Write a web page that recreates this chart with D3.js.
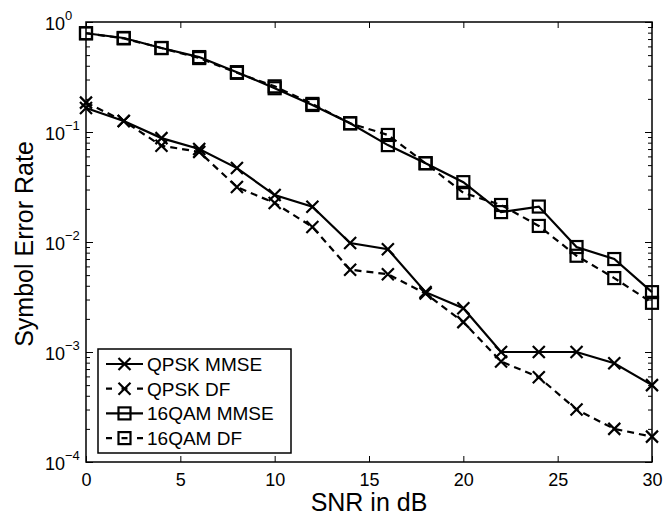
<!DOCTYPE html>
<html>
<head>
<meta charset="utf-8">
<script src="https://cdn.jsdelivr.net/npm/d3@7"></script>
<style>
  body { margin: 0; background: #fff; }
  svg { font-family: "Liberation Sans", Arial, sans-serif; }
</style>
</head>
<body>
<svg id="chart" width="665" height="521"></svg>
<script>
// values
var snr = [0, 2, 4, 6, 8, 10, 12, 14, 16, 18, 20, 22, 24, 26, 28, 30];
var qpskMmse = [0.165, 0.126, 0.088, 0.070, 0.047, 0.0267, 0.0209, 0.0098, 0.0086, 0.0035, 0.0025, 0.001, 0.001, 0.001, 0.00079, 0.0005];
var qpskDf = [0.185, 0.126, 0.075, 0.066, 0.0316, 0.0226, 0.0137, 0.0056, 0.0051, 0.0034, 0.00187, 0.00082, 0.00059, 0.0003, 0.0002, 0.00017];
var qamMmse = [0.79, 0.716, 0.58, 0.48, 0.35, 0.25, 0.176, 0.12, 0.076, 0.052, 0.035, 0.0187, 0.021, 0.009, 0.007, 0.0035];
var qamDf = [0.79, 0.71, 0.58, 0.47, 0.345, 0.26, 0.18, 0.12, 0.094, 0.052, 0.028, 0.0217, 0.014, 0.0075, 0.0047, 0.0028];
var xTicks = [0, 5, 10, 15, 20, 25, 30];
var yMajor = [1e-4, 1e-3, 1e-2, 1e-1, 1];
var yExp = ['\u22124', '\u22123', '\u22122', '\u22121', '0'];
var seriesNames = ['QPSK MMSE', 'QPSK DF', '16QAM MMSE', '16QAM DF'];

var series = [
	{name: seriesNames[0], vals: qpskMmse, marker: 'x', dash: null},
	{name: seriesNames[1], vals: qpskDf, marker: 'x', dash: '7,5'},
	{name: seriesNames[2], vals: qamMmse, marker: 's', dash: null},
	{name: seriesNames[3], vals: qamDf, marker: 's', dash: '7,5'}
];

var svg = d3.select('#chart');
var plotL = 86, plotR = 652, plotT = 22, plotB = 462;

var x = d3.scaleLinear().domain([0, 30]).range([plotL, plotR]);
var y = d3.scaleLog().domain([1e-4, 1]).range([plotB, plotT]);

var yMinor = y.ticks().filter(function(d){ return yMajor.indexOf(d) < 0; });

// frame
svg.append('rect')
	.attr('x', plotL).attr('y', plotT)
	.attr('width', plotR - plotL).attr('height', plotB - plotT)
	.attr('fill', 'none').attr('stroke', '#000').attr('stroke-width', 1.5);

function styleAxis(g){
	g.select('.domain').remove();
	g.selectAll('.tick line').attr('stroke', '#000').attr('stroke-width', 1);
}

// x axes (ticks inside)
svg.append('g')
	.attr('transform', 'translate(0,' + plotB + ')')
	.call(d3.axisBottom(x).tickValues(xTicks).tickSize(-6).tickPadding(11))
	.call(styleAxis)
	.selectAll('text')
		.attr('font-size', 18).attr('fill', '#000')
		.attr('dy', '0.71em');

svg.append('g')
	.attr('transform', 'translate(0,' + plotT + ')')
	.call(d3.axisTop(x).tickValues(xTicks).tickSize(-6).tickFormat(''))
	.call(styleAxis);

// y axes: majors and minors on both sides
[[d3.axisLeft, plotL], [d3.axisRight, plotR]].forEach(function(a){
	svg.append('g')
		.attr('transform', 'translate(' + a[1] + ',0)')
		.call(a[0](y).tickValues(yMajor).tickSize(-7).tickFormat(''))
		.call(styleAxis);
	svg.append('g')
		.attr('transform', 'translate(' + a[1] + ',0)')
		.call(a[0](y).tickValues(yMinor).tickSize(-4).tickFormat(''))
		.call(styleAxis);
});

// y tick labels as 10^n
svg.append('g').selectAll('text')
	.data(yMajor)
	.enter()
	.append('text')
		.attr('x', plotL - 21)
		.attr('y', function(d){ return y(d) + 8; })
		.attr('text-anchor', 'end')
		.attr('font-size', 18)
		.text('10');

svg.append('g').selectAll('text')
	.data(yMajor)
	.enter()
	.append('text')
		.attr('x', plotL - 21)
		.attr('y', function(d){ return y(d) - 2; })
		.attr('font-size', 13)
		.text(function(d, i){ return yExp[i]; });

// axis titles
svg.append('text')
	.attr('x', (plotL + plotR) / 2)
	.attr('y', 511)
	.attr('text-anchor', 'middle')
	.attr('font-size', 25)
	.text('SNR in dB');

svg.append('text')
	.attr('transform', 'translate(33,' + ((plotT + plotB) / 2 + 2) + ') rotate(-90)')
	.attr('text-anchor', 'middle')
	.attr('font-size', 25)
	.text('Symbol Error Rate');

// lines
var line = d3.line()
	.x(function(d, i){ return x(snr[i]); })
	.y(function(d){ return y(d); });

function drawMarker(g, type, cx, cy){
	if (type === 'x') {
		var r = 6;
		g.append('path')
			.attr('d', 'M' + (cx - r) + ',' + (cy - r) + 'L' + (cx + r) + ',' + (cy + r) +
				'M' + (cx - r) + ',' + (cy + r) + 'L' + (cx + r) + ',' + (cy - r))
			.attr('stroke', '#000').attr('stroke-width', 2.2).attr('fill', 'none');
	} else {
		var h = 6;
		g.append('rect')
			.attr('x', cx - h).attr('y', cy - h)
			.attr('width', 2 * h).attr('height', 2 * h)
			.attr('stroke', '#000').attr('stroke-width', 2.2).attr('fill', 'none');
	}
}

series.forEach(function(s){
	var g = svg.append('g');
	g.append('path')
		.datum(s.vals)
		.attr('d', line)
		.attr('fill', 'none')
		.attr('stroke', '#000')
		.attr('stroke-width', 2.2)
		.attr('stroke-dasharray', s.dash);
	s.vals.forEach(function(v, i){
		drawMarker(g, s.marker, x(snr[i]), y(v));
	});
});

// legend
var lg = svg.append('g');
lg.append('rect')
	.attr('x', 98).attr('y', 349)
	.attr('width', 193).attr('height', 104)
	.attr('fill', '#fff').attr('stroke', '#000').attr('stroke-width', 1.5);

series.forEach(function(s, i){
	var cy = 364 + i * 24.7;
	lg.append('line')
		.attr('x1', 106).attr('x2', 143)
		.attr('y1', cy).attr('y2', cy)
		.attr('stroke', '#000').attr('stroke-width', 2.2)
		.attr('stroke-dasharray', s.dash ? '6,9.5' : null);
	drawMarker(lg, s.marker, 124.5, cy);
	lg.append('text')
		.attr('x', 147).attr('y', cy + 7)
		.attr('font-size', 19)
		.text(s.name);
});
</script>
</body>
</html>
